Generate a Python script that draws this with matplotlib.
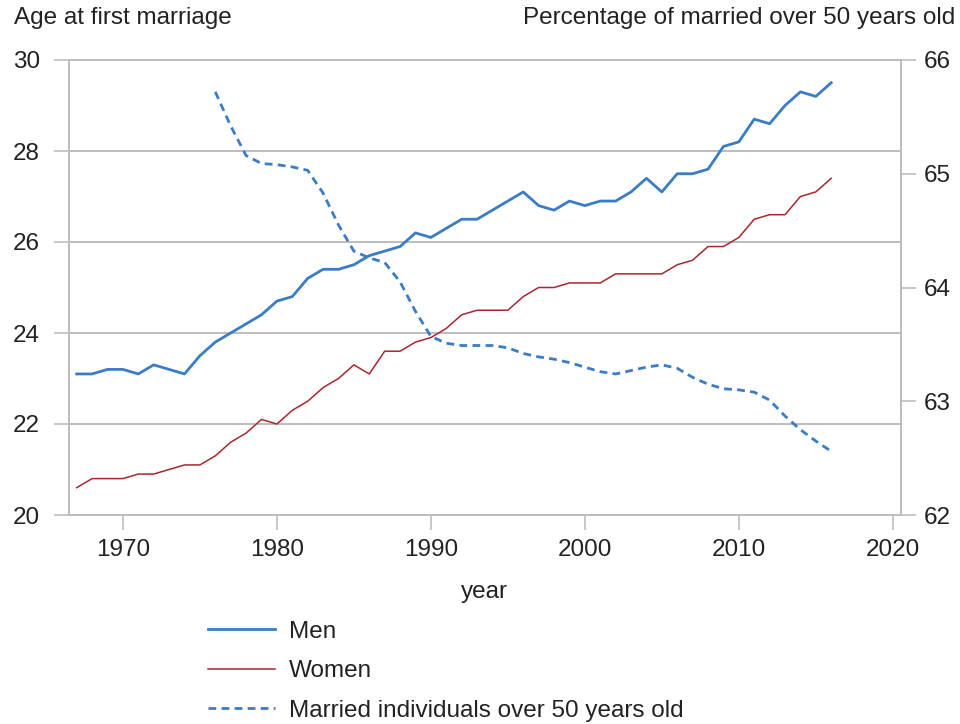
import numpy as np
import matplotlib.pyplot as plt

plt.rcParams['font.family'] = ['Liberation Sans', 'DejaVu Sans']

# Age at first marriage, 1967-2016
years = np.arange(1967, 2017)
men = [23.1, 23.1, 23.2, 23.2, 23.1, 23.3, 23.2, 23.1, 23.5, 23.8,
       24.0, 24.2, 24.4, 24.7, 24.8, 25.2, 25.4, 25.4, 25.5, 25.7,
       25.8, 25.9, 26.2, 26.1, 26.3, 26.5, 26.5, 26.7, 26.9, 27.1,
       26.8, 26.7, 26.9, 26.8, 26.9, 26.9, 27.1, 27.4, 27.1, 27.5,
       27.5, 27.6, 28.1, 28.2, 28.7, 28.6, 29.0, 29.3, 29.2, 29.5]
women = [20.6, 20.8, 20.8, 20.8, 20.9, 20.9, 21.0, 21.1, 21.1, 21.3,
         21.6, 21.8, 22.1, 22.0, 22.3, 22.5, 22.8, 23.0, 23.3, 23.1,
         23.6, 23.6, 23.8, 23.9, 24.1, 24.4, 24.5, 24.5, 24.5, 24.8,
         25.0, 25.0, 25.1, 25.1, 25.1, 25.3, 25.3, 25.3, 25.3, 25.5,
         25.6, 25.9, 25.9, 26.1, 26.5, 26.6, 26.6, 27.0, 27.1, 27.4]

# Percentage of married individuals over 50, 1976-2016
years_50 = np.arange(1976, 2017)
married_50 = [65.72, 65.42, 65.16, 65.09, 65.08, 65.06, 65.03, 64.83, 64.55, 64.32,
              64.26, 64.22, 64.05, 63.79, 63.57, 63.51, 63.49, 63.49, 63.49, 63.47,
              63.42, 63.39, 63.37, 63.34, 63.30, 63.26, 63.24, 63.27, 63.30, 63.32,
              63.29, 63.21, 63.15, 63.11, 63.10, 63.08, 63.01, 62.87, 62.75, 62.65,
              62.56]

c_men = '#3a7cc6'
c_women = '#a8272d'
c_grid = '#bdbdc1'
c_text = '#222222'
fs = 17.5

fig = plt.figure(figsize=(9.6, 7.24), dpi=100)
ax = fig.add_axes([69 / 960, 1 - 515 / 724, (900.5 - 69) / 960, 455 / 724])
ax2 = ax.twinx()

l1, = ax.plot(years, men, color=c_men, lw=2.0, label='Men')
l2, = ax.plot(years, women, color=c_women, lw=1.1, label='Women')
l3, = ax2.plot(years_50, married_50, color=c_men, lw=2.0, dashes=(2.8, 1.9),
               label='Married individuals over 50 years old')

ax.set_xlim(1966.5, 2020.5)
ax.set_ylim(20, 30)
ax.set_yticks([20, 22, 24, 26, 28, 30])
ax.set_xticks([1970, 1980, 1990, 2000, 2010, 2020])
ax2.set_ylim(62, 66)
ax2.set_yticks([62, 63, 64, 65, 66])

ax.grid(axis='y', color=c_grid, lw=1.4)
ax.set_axisbelow(True)
for a in (ax, ax2):
    for s in a.spines.values():
        s.set_color(c_grid)
        s.set_linewidth(1.4)
ax.tick_params(axis='y', length=11, width=1.2, color=c_grid, pad=10,
               labelsize=fs, labelcolor=c_text)
ax.tick_params(axis='x', length=11, width=1.2, color=c_grid, pad=6,
               labelsize=fs, labelcolor=c_text)
ax2.tick_params(axis='y', length=11, width=1.2, color=c_grid, pad=6,
                labelsize=fs, labelcolor=c_text)

ax.set_xlabel('year', fontsize=fs, color=c_text, labelpad=15)

fig.text(14 / 960, 1 - 18 / 724, 'Age at first marriage', fontsize=fs,
         color=c_text, ha='left', va='center')
fig.text(955 / 960, 1 - 18 / 724, 'Percentage of married over 50 years old',
         fontsize=fs, color=c_text, ha='right', va='center')

fig.legend(handles=[l1, l2, l3], loc='upper left', frameon=False,
           bbox_to_anchor=(198 / 960, 1 - 611 / 724), fontsize=fs,
           handlelength=2.75, handletextpad=0.6, labelspacing=0.72,
           borderaxespad=0, labelcolor=c_text)

fig.savefig('out.png', dpi=100)
